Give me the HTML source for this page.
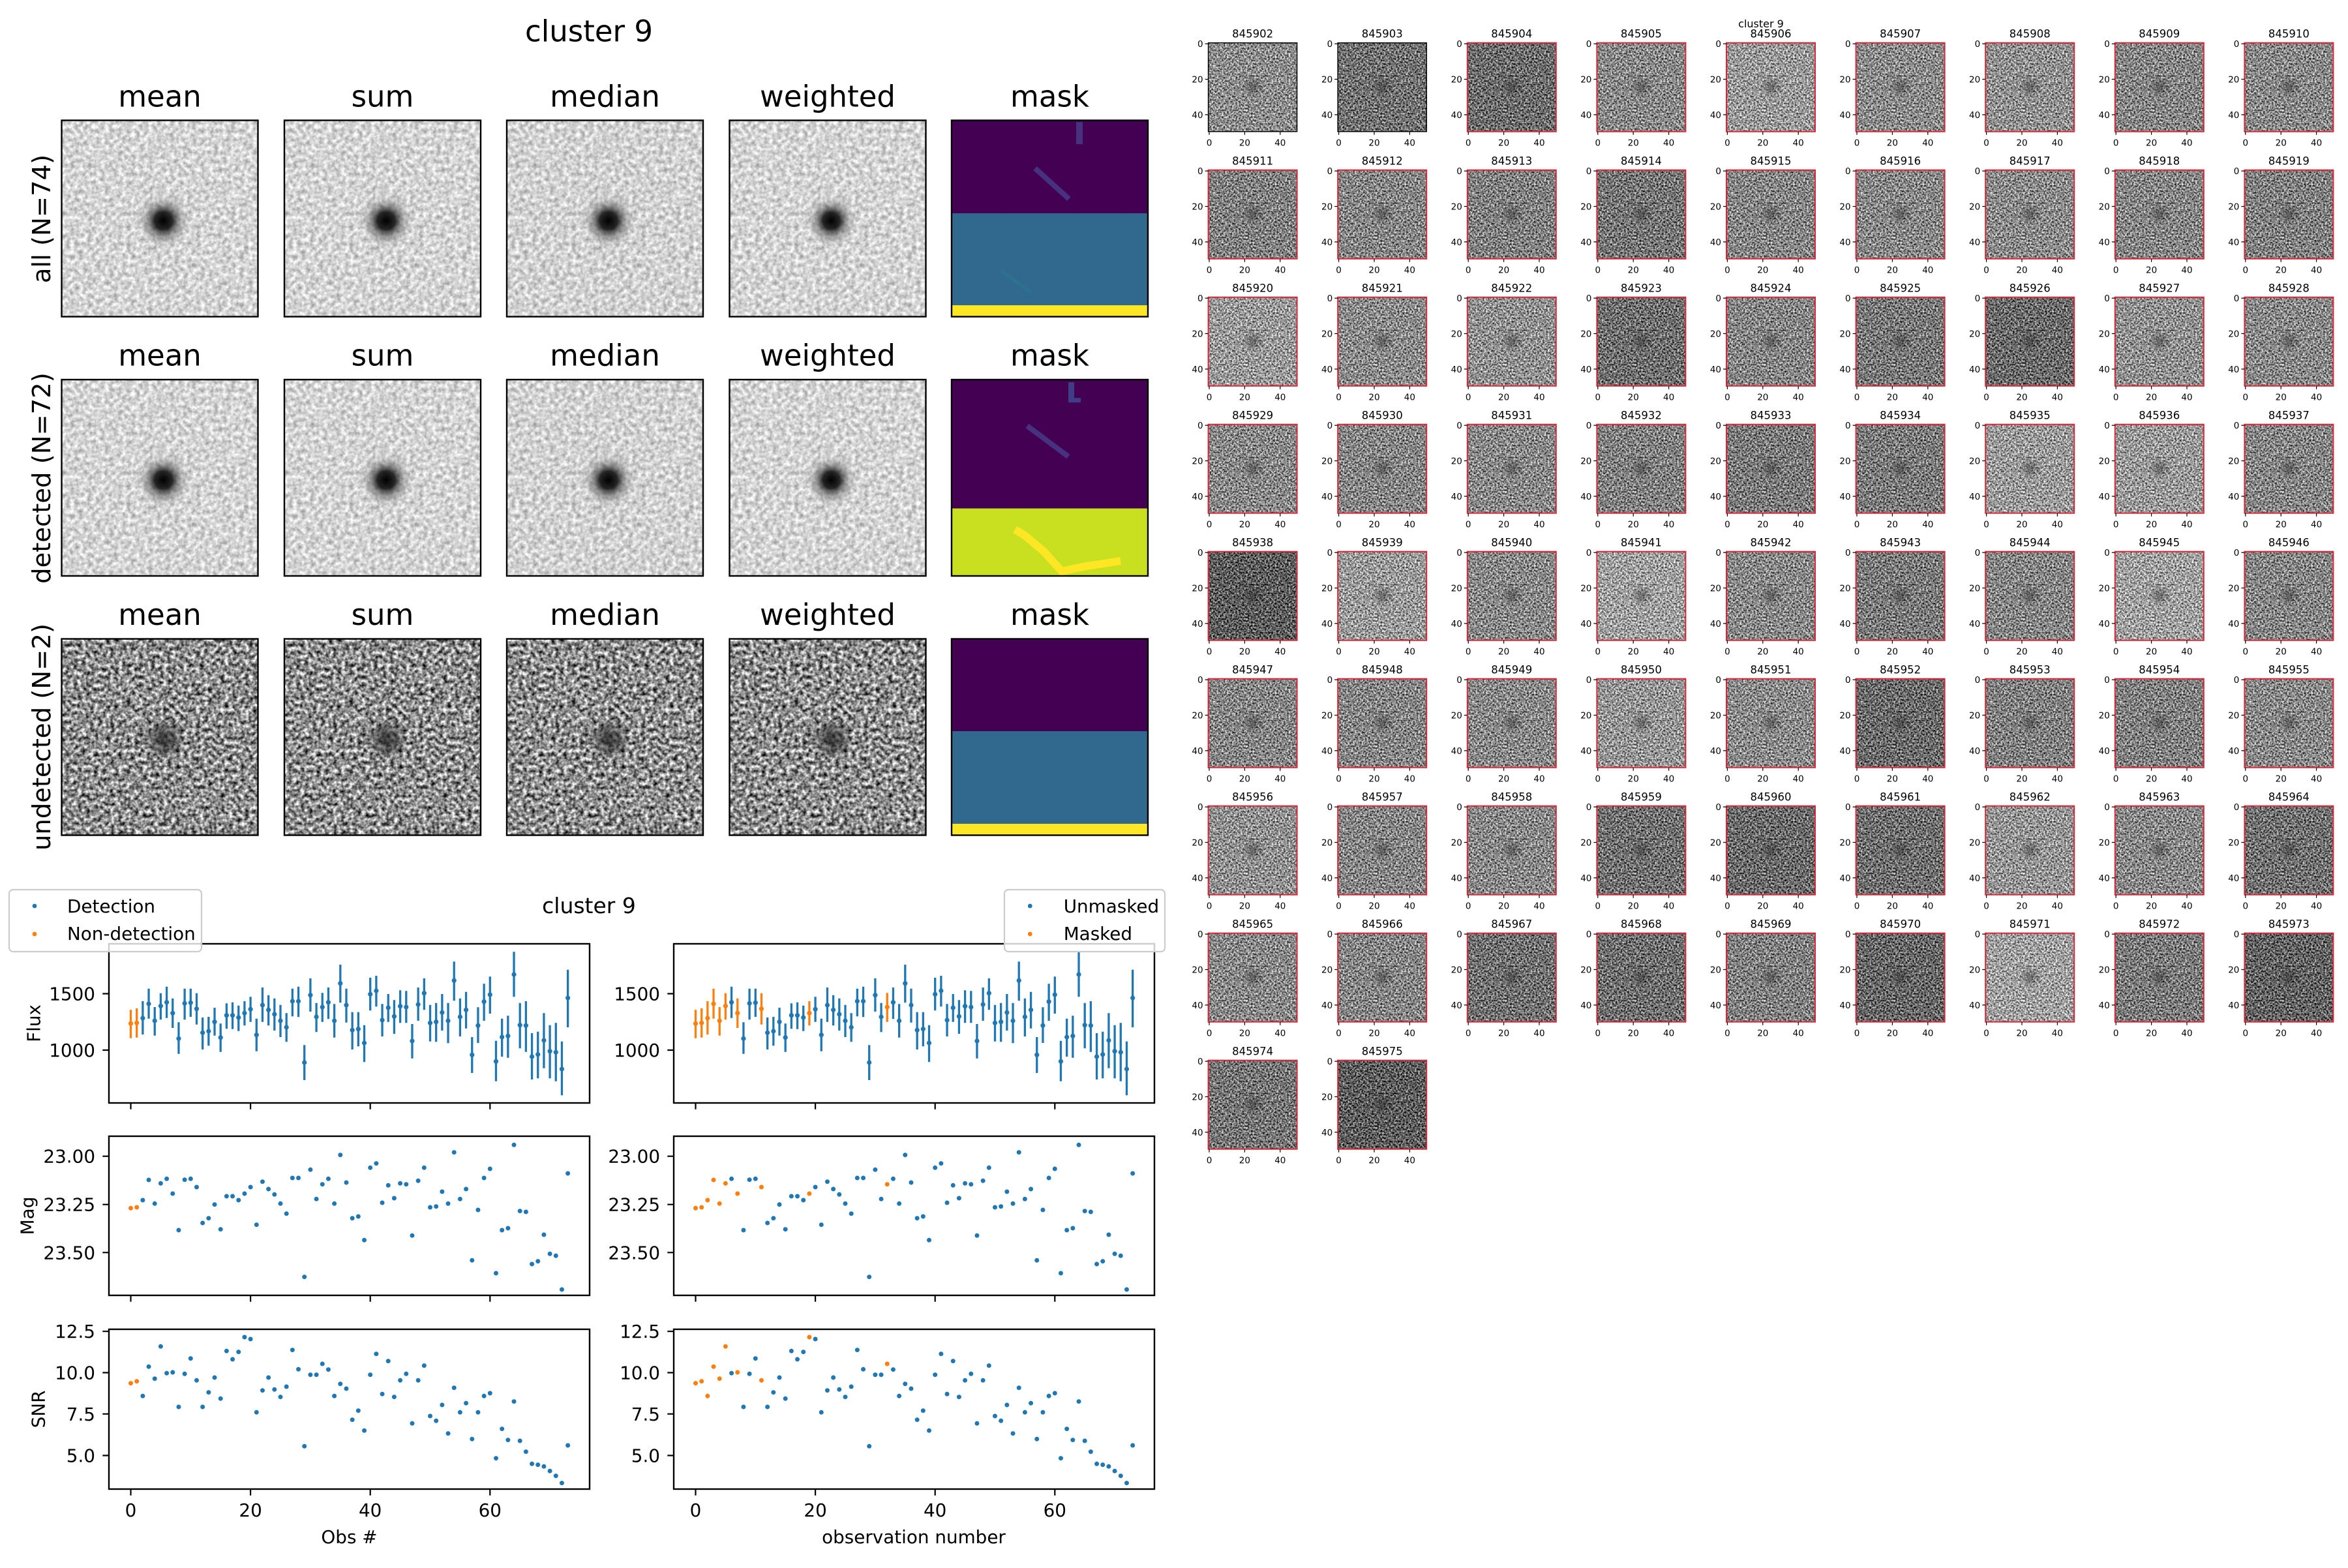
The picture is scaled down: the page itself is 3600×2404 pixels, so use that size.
<!DOCTYPE html>
<html><head><meta charset="utf-8">
<style>
html,body{margin:0;padding:0;background:#fff}
svg{display:block}
text{font-family:"DejaVu Sans","Liberation Sans",sans-serif;fill:#000}
.st{font-size:16.5px;text-anchor:middle}
.xt{font-size:13.5px;text-anchor:middle}
.yt{font-size:13.5px;text-anchor:end}
.tk{stroke:#000;stroke-width:1.2;fill:none}
.rb{fill:none;stroke:#d62839;stroke-width:2}
.bb{fill:none;stroke:#000;stroke-width:1.5}
.fr{fill:none;stroke:#000;stroke-width:2.4}
.ct{font-size:45px;text-anchor:middle}
.rl{font-size:38.5px;text-anchor:middle}
.lt{font-size:27.8px}
.lm{font-size:27.8px;text-anchor:middle}
.le{font-size:27.8px;text-anchor:end}
.tm{stroke:#000;stroke-width:2.2;fill:none}
</style></head><body>
<svg width="3600" height="2404" viewBox="0 0 3600 2404" xmlns="http://www.w3.org/2000/svg">
<defs>
<filter id="nL" x="0" y="0" width="1" height="1" color-interpolation-filters="sRGB">
<feTurbulence type="fractalNoise" baseFrequency="0.15" numOctaves="2" seed="2" result="t"/>
<feColorMatrix in="t" type="matrix" values="1 0 0 0 0 1 0 0 0 0 1 0 0 0 0 0 0 0 0 1" result="g"/>
<feComposite in="SourceGraphic" in2="g" operator="arithmetic" k1="0" k2="1" k3="0.6" k4="-0.3"/>
</filter>
<filter id="nM" x="0" y="0" width="1" height="1" color-interpolation-filters="sRGB">
<feTurbulence type="fractalNoise" baseFrequency="0.16" numOctaves="2" seed="5" result="t"/>
<feColorMatrix in="t" type="matrix" values="1 0 0 0 0 1 0 0 0 0 1 0 0 0 0 0 0 0 0 1" result="g"/>
<feComposite in="SourceGraphic" in2="g" operator="arithmetic" k1="0" k2="1" k3="1.6" k4="-0.8"/>
</filter>
<filter id="nS" x="0" y="0" width="1" height="1" color-interpolation-filters="sRGB">
<feTurbulence type="fractalNoise" baseFrequency="0.38" numOctaves="2" seed="7" result="t"/>
<feColorMatrix in="t" type="matrix" values="1 0 0 0 0 1 0 0 0 0 1 0 0 0 0 0 0 0 0 1" result="g"/>
<feComposite in="SourceGraphic" in2="g" operator="arithmetic" k1="0" k2="1" k3="1.5" k4="-0.75"/>
</filter>
<radialGradient id="bk"><stop offset="0" stop-color="#000" stop-opacity="1"/><stop offset="0.3" stop-color="#111" stop-opacity="0.9"/><stop offset="0.5" stop-color="#444" stop-opacity="0.55"/><stop offset="0.75" stop-color="#888" stop-opacity="0.2"/><stop offset="1" stop-color="#999" stop-opacity="0"/></radialGradient>
<radialGradient id="bk2"><stop offset="0" stop-color="#111" stop-opacity="0.75"/><stop offset="0.5" stop-color="#222" stop-opacity="0.45"/><stop offset="1" stop-color="#333" stop-opacity="0"/></radialGradient>
<radialGradient id="sb"><stop offset="0" stop-color="#222" stop-opacity="0.45"/><stop offset="1" stop-color="#333" stop-opacity="0"/></radialGradient>

<!-- flux groups -->
<g id="fB" fill="currentColor"><path d="M0 108.3V151.7M9.18 106V150.7" stroke="currentColor" stroke-width="3.3" fill="none"/><circle cx="0" cy="129.3" r="3.6"/><circle cx="9.18" cy="128.3" r="3.6"/></g>
<g id="fA" fill="currentColor"><path d="M18.36 95V146M27.54 75.7V121.7M36.72 104V147.7M45.9 82.7V123.3M64.26 90.7V136M100.98 82.7V130.7M174.42 95V132.3M293.76 82.3V126.7" stroke="currentColor" stroke-width="3.3" fill="none"/>
<circle cx="18.36" cy="121" r="3.6"/><circle cx="27.54" cy="99" r="3.6"/><circle cx="36.72" cy="125" r="3.6"/><circle cx="45.9" cy="102.3" r="3.6"/><circle cx="64.26" cy="113.3" r="3.6"/><circle cx="100.98" cy="106.7" r="3.6"/><circle cx="174.42" cy="113.3" r="3.6"/><circle cx="293.76" cy="104" r="3.6"/></g>
<g id="fC" fill="currentColor"><path d="M55.08 72.7V120.7M73.44 127.3V175.7M82.62 75.7V123.3M91.8 75.7V119M110.16 120V169M119.34 119V163.3M128.52 105V147.7M137.7 129.3V172.7M146.88 98.3V137.3M156.06 96.7V137.7M165.24 101.7V140.7M183.6 88.3V126.7M192.78 121.7V171.7M201.96 74V126.7M211.14 85.7V132.3M220.32 90.7V140M229.5 100.7V150M238.68 113.3V157.3M247.86 75.7V118.3M257.04 72.7V119.3M266.22 162.3V216M275.4 60V111M284.58 97.7V142.3M302.94 74V122.3M312.12 99.3V150.7M321.3 39V97.3M330.48 75.7V127.7M339.66 111.7V169M348.84 111.7V164.3M358.02 131.7V188.3M367.2 59V109.3M376.38 56V103.3M385.56 99.3V149M394.74 84V126.7M403.92 93.3V145M413.1 78.3V128.3M422.28 79.3V128.3M431.46 130V182.7M440.64 74V125M449.82 60V108.3M459 100.7V156.7M468.18 97.7V157.3M477.36 84V140M486.54 97.7V159.3M495.72 34.3V94.3M504.9 90.7V149M514.08 80.7V136.7M523.26 150V205M532.44 104.3V159M541.62 68.3V125M550.8 57.3V114M559.98 155.7V217.7M569.16 121.7V180M578.34 117.3V181.7M587.52 19.3V88.3M596.7 97.7V167.3M605.88 95V172.7M615.06 144V215M624.24 141.7V213.3M633.42 113.3V197.7M642.6 131.7V213.3M651.78 128.3V217.7M660.96 156.7V239.3M670.14 46.7V135" stroke="currentColor" stroke-width="3.3" fill="none"/>
<circle cx="55.08" cy="96.7" r="3.6"/><circle cx="73.44" cy="152.3" r="3.6"/><circle cx="82.62" cy="98.3" r="3.6"/><circle cx="91.8" cy="97.3" r="3.6"/><circle cx="110.16" cy="143.3" r="3.6"/><circle cx="119.34" cy="141" r="3.6"/><circle cx="128.52" cy="126.7" r="3.6"/><circle cx="137.7" cy="150.7" r="3.6"/><circle cx="146.88" cy="116.7" r="3.6"/><circle cx="156.06" cy="116.7" r="3.6"/><circle cx="165.24" cy="120" r="3.6"/><circle cx="183.6" cy="107.3" r="3.6"/><circle cx="192.78" cy="146.7" r="3.6"/><circle cx="201.96" cy="101" r="3.6"/><circle cx="211.14" cy="108.3" r="3.6"/><circle cx="220.32" cy="115" r="3.6"/><circle cx="229.5" cy="125" r="3.6"/><circle cx="238.68" cy="135" r="3.6"/><circle cx="247.86" cy="95" r="3.6"/><circle cx="257.04" cy="95" r="3.6"/><circle cx="266.22" cy="189" r="3.6"/><circle cx="275.4" cy="85.7" r="3.6"/><circle cx="284.58" cy="119" r="3.6"/><circle cx="302.94" cy="96.7" r="3.6"/><circle cx="312.12" cy="125" r="3.6"/><circle cx="321.3" cy="67.7" r="3.6"/><circle cx="330.48" cy="101" r="3.6"/><circle cx="339.66" cy="139.3" r="3.6"/><circle cx="348.84" cy="137.7" r="3.6"/><circle cx="358.02" cy="159" r="3.6"/><circle cx="367.2" cy="84.3" r="3.6"/><circle cx="376.38" cy="79" r="3.6"/><circle cx="385.56" cy="124" r="3.6"/><circle cx="394.74" cy="105" r="3.6"/><circle cx="403.92" cy="118.3" r="3.6"/><circle cx="413.1" cy="102.7" r="3.6"/><circle cx="422.28" cy="104" r="3.6"/><circle cx="431.46" cy="156" r="3.6"/><circle cx="440.64" cy="100" r="3.6"/><circle cx="449.82" cy="82.7" r="3.6"/><circle cx="459" cy="128.3" r="3.6"/><circle cx="468.18" cy="126.7" r="3.6"/><circle cx="477.36" cy="112.3" r="3.6"/><circle cx="486.54" cy="125" r="3.6"/><circle cx="495.72" cy="63.3" r="3.6"/><circle cx="504.9" cy="119" r="3.6"/><circle cx="514.08" cy="108.3" r="3.6"/><circle cx="523.26" cy="177.3" r="3.6"/><circle cx="532.44" cy="132.3" r="3.6"/><circle cx="541.62" cy="95.7" r="3.6"/><circle cx="550.8" cy="85" r="3.6"/><circle cx="559.98" cy="187.3" r="3.6"/><circle cx="569.16" cy="150" r="3.6"/><circle cx="578.34" cy="148.3" r="3.6"/><circle cx="587.52" cy="54" r="3.6"/><circle cx="596.7" cy="131.7" r="3.6"/><circle cx="605.88" cy="132.3" r="3.6"/><circle cx="615.06" cy="180" r="3.6"/><circle cx="624.24" cy="176.7" r="3.6"/><circle cx="633.42" cy="155" r="3.6"/><circle cx="642.6" cy="171.7" r="3.6"/><circle cx="651.78" cy="173.3" r="3.6"/><circle cx="660.96" cy="199" r="3.6"/><circle cx="670.14" cy="90" r="3.6"/></g>

<!-- mag groups -->
<g id="mB" fill="currentColor"><circle cx="0" cy="117.3" r="3.5"/><circle cx="9.18" cy="116" r="3.5"/></g>
<g id="mA" fill="currentColor"><circle cx="18.36" cy="105" r="3.5"/><circle cx="27.54" cy="74" r="3.5"/><circle cx="36.72" cy="110.3" r="3.5"/><circle cx="45.9" cy="79.3" r="3.5"/><circle cx="64.26" cy="95" r="3.5"/><circle cx="100.98" cy="85" r="3.5"/><circle cx="174.42" cy="95" r="3.5"/><circle cx="293.76" cy="80.7" r="3.5"/></g>
<g id="mC" fill="currentColor"><circle cx="55.08" cy="72.3" r="3.5"/><circle cx="73.44" cy="151" r="3.5"/><circle cx="82.62" cy="73.7" r="3.5"/><circle cx="91.8" cy="72.3" r="3.5"/><circle cx="110.16" cy="140" r="3.5"/><circle cx="119.34" cy="132.7" r="3.5"/><circle cx="128.52" cy="111.7" r="3.5"/><circle cx="137.7" cy="149.7" r="3.5"/><circle cx="146.88" cy="99" r="3.5"/><circle cx="156.06" cy="99" r="3.5"/><circle cx="165.24" cy="105" r="3.5"/><circle cx="183.6" cy="85" r="3.5"/><circle cx="192.78" cy="142.7" r="3.5"/><circle cx="201.96" cy="76.7" r="3.5"/><circle cx="211.14" cy="88" r="3.5"/><circle cx="220.32" cy="96.3" r="3.5"/><circle cx="229.5" cy="110.3" r="3.5"/><circle cx="238.68" cy="125.7" r="3.5"/><circle cx="247.86" cy="71" r="3.5"/><circle cx="257.04" cy="71" r="3.5"/><circle cx="266.22" cy="222.7" r="3.5"/><circle cx="275.4" cy="58.3" r="3.5"/><circle cx="284.58" cy="103.3" r="3.5"/><circle cx="302.94" cy="72.3" r="3.5"/><circle cx="312.12" cy="110.3" r="3.5"/><circle cx="321.3" cy="35.7" r="3.5"/><circle cx="330.48" cy="78" r="3.5"/><circle cx="339.66" cy="132.7" r="3.5"/><circle cx="348.84" cy="130" r="3.5"/><circle cx="358.02" cy="166.3" r="3.5"/><circle cx="367.2" cy="55.3" r="3.5"/><circle cx="376.38" cy="48.7" r="3.5"/><circle cx="385.56" cy="109" r="3.5"/><circle cx="394.74" cy="82.3" r="3.5"/><circle cx="403.92" cy="102" r="3.5"/><circle cx="413.1" cy="79.3" r="3.5"/><circle cx="422.28" cy="80.7" r="3.5"/><circle cx="431.46" cy="159.3" r="3.5"/><circle cx="440.64" cy="75.3" r="3.5"/><circle cx="449.82" cy="55.3" r="3.5"/><circle cx="459" cy="116" r="3.5"/><circle cx="468.18" cy="114.7" r="3.5"/><circle cx="477.36" cy="92" r="3.5"/><circle cx="486.54" cy="110.3" r="3.5"/><circle cx="495.72" cy="31.7" r="3.5"/><circle cx="504.9" cy="103.3" r="3.5"/><circle cx="514.08" cy="88" r="3.5"/><circle cx="523.26" cy="197.3" r="3.5"/><circle cx="532.44" cy="120" r="3.5"/><circle cx="541.62" cy="71" r="3.5"/><circle cx="550.8" cy="57" r="3.5"/><circle cx="559.98" cy="217" r="3.5"/><circle cx="569.16" cy="151" r="3.5"/><circle cx="578.34" cy="148" r="3.5"/><circle cx="587.52" cy="20.3" r="3.5"/><circle cx="596.7" cy="121.7" r="3.5"/><circle cx="605.88" cy="123" r="3.5"/><circle cx="615.06" cy="203" r="3.5"/><circle cx="624.24" cy="198.7" r="3.5"/><circle cx="633.42" cy="158" r="3.5"/><circle cx="642.6" cy="187.3" r="3.5"/><circle cx="651.78" cy="190.3" r="3.5"/><circle cx="660.96" cy="242" r="3.5"/><circle cx="670.14" cy="64" r="3.5"/></g>

<!-- snr groups -->
<g id="sB" fill="currentColor"><circle cx="0" cy="85.7" r="3.5"/><circle cx="9.18" cy="82.7" r="3.5"/></g>
<g id="sA" fill="currentColor"><circle cx="18.36" cy="105.3" r="3.5"/><circle cx="27.54" cy="60.3" r="3.5"/><circle cx="36.72" cy="78.7" r="3.5"/><circle cx="45.9" cy="29.3" r="3.5"/><circle cx="64.26" cy="69" r="3.5"/><circle cx="100.98" cy="81.3" r="3.5"/><circle cx="174.42" cy="15" r="3.5"/><circle cx="293.76" cy="56" r="3.5"/></g>
<g id="sC" fill="currentColor"><circle cx="55.08" cy="70.3" r="3.5"/><circle cx="73.44" cy="122" r="3.5"/><circle cx="82.62" cy="71.3" r="3.5"/><circle cx="91.8" cy="47.7" r="3.5"/><circle cx="110.16" cy="122" r="3.5"/><circle cx="119.34" cy="99.7" r="3.5"/><circle cx="128.52" cy="77" r="3.5"/><circle cx="137.7" cy="109.3" r="3.5"/><circle cx="146.88" cy="36.3" r="3.5"/><circle cx="156.06" cy="49" r="3.5"/><circle cx="165.24" cy="37.7" r="3.5"/><circle cx="183.6" cy="18" r="3.5"/><circle cx="192.78" cy="130.3" r="3.5"/><circle cx="201.96" cy="96.7" r="3.5"/><circle cx="211.14" cy="77" r="3.5"/><circle cx="220.32" cy="95.3" r="3.5"/><circle cx="229.5" cy="106.7" r="3.5"/><circle cx="238.68" cy="91" r="3.5"/><circle cx="247.86" cy="34.7" r="3.5"/><circle cx="257.04" cy="64.3" r="3.5"/><circle cx="266.22" cy="182.3" r="3.5"/><circle cx="275.4" cy="72.7" r="3.5"/><circle cx="284.58" cy="72.7" r="3.5"/><circle cx="302.94" cy="64.7" r="3.5"/><circle cx="312.12" cy="105.3" r="3.5"/><circle cx="321.3" cy="86.7" r="3.5"/><circle cx="330.48" cy="94" r="3.5"/><circle cx="339.66" cy="141.7" r="3.5"/><circle cx="348.84" cy="127.7" r="3.5"/><circle cx="358.02" cy="158.3" r="3.5"/><circle cx="367.2" cy="72.7" r="3.5"/><circle cx="376.38" cy="40.7" r="3.5"/><circle cx="385.56" cy="102.3" r="3.5"/><circle cx="394.74" cy="51.7" r="3.5"/><circle cx="403.92" cy="106.7" r="3.5"/><circle cx="413.1" cy="81.3" r="3.5"/><circle cx="422.28" cy="71.3" r="3.5"/><circle cx="431.46" cy="147.3" r="3.5"/><circle cx="440.64" cy="81.3" r="3.5"/><circle cx="449.82" cy="58.7" r="3.5"/><circle cx="459" cy="136" r="3.5"/><circle cx="468.18" cy="143.3" r="3.5"/><circle cx="477.36" cy="119" r="3.5"/><circle cx="486.54" cy="162.7" r="3.5"/><circle cx="495.72" cy="92.7" r="3.5"/><circle cx="504.9" cy="130.3" r="3.5"/><circle cx="514.08" cy="116.3" r="3.5"/><circle cx="523.26" cy="171.3" r="3.5"/><circle cx="532.44" cy="130.3" r="3.5"/><circle cx="541.62" cy="105.3" r="3.5"/><circle cx="550.8" cy="101" r="3.5"/><circle cx="559.98" cy="200.7" r="3.5"/><circle cx="569.16" cy="155.7" r="3.5"/><circle cx="578.34" cy="172.7" r="3.5"/><circle cx="587.52" cy="113.7" r="3.5"/><circle cx="596.7" cy="174" r="3.5"/><circle cx="605.88" cy="190.7" r="3.5"/><circle cx="615.06" cy="209.3" r="3.5"/><circle cx="624.24" cy="210.7" r="3.5"/><circle cx="633.42" cy="213.3" r="3.5"/><circle cx="642.6" cy="220.3" r="3.5"/><circle cx="651.78" cy="227.7" r="3.5"/><circle cx="660.96" cy="238.7" r="3.5"/><circle cx="670.14" cy="181" r="3.5"/></g>
</defs>

<rect width="3600" height="2404" fill="#fff"/>

<!-- ============ TOP-LEFT STACK FIGURE ============ -->
<text class="ct" x="903" y="63.5">cluster 9</text>

<!-- column titles -->
<g class="ct">
<text class="ct" x="245" y="163.3">mean</text><text class="ct" x="586.5" y="163.3">sum</text><text class="ct" x="927.5" y="163.3">median</text><text class="ct" x="1269" y="163.3">weighted</text><text class="ct" x="1609.5" y="163.3">mask</text>
<text class="ct" x="245" y="560.7">mean</text><text class="ct" x="586.5" y="560.7">sum</text><text class="ct" x="927.5" y="560.7">median</text><text class="ct" x="1269" y="560.7">weighted</text><text class="ct" x="1609.5" y="560.7">mask</text>
<text class="ct" x="245" y="958.1">mean</text><text class="ct" x="586.5" y="958.1">sum</text><text class="ct" x="927.5" y="958.1">median</text><text class="ct" x="1269" y="958.1">weighted</text><text class="ct" x="1609.5" y="958.1">mask</text>
</g>
<text class="rl" transform="translate(77,335.5) rotate(-90)">all (N=74)</text>
<text class="rl" transform="translate(77,733) rotate(-90)">detected (N=72)</text>
<text class="rl" transform="translate(77,1130) rotate(-90)">undetected (N=2)</text>

<!-- rows 1 & 2 light images -->
<g transform="translate(94.5,184.5)"><rect width="301" height="301" fill="#d4d4d4" filter="url(#nL)"/><circle cx="156" cy="154" r="45" fill="url(#bk)"/><rect width="301" height="301" class="fr"/></g>
<g transform="translate(436,184.5)"><rect width="301" height="301" fill="#d4d4d4" filter="url(#nL)"/><circle cx="156" cy="154" r="45" fill="url(#bk)"/><rect width="301" height="301" class="fr"/></g>
<g transform="translate(777,184.5)"><rect width="301" height="301" fill="#d2d2d2" filter="url(#nL)"/><circle cx="156" cy="154" r="45" fill="url(#bk)"/><rect width="301" height="301" class="fr"/></g>
<g transform="translate(1118.5,184.5)"><rect width="301" height="301" fill="#d4d4d4" filter="url(#nL)"/><circle cx="156" cy="154" r="43" fill="url(#bk)"/><rect width="301" height="301" class="fr"/></g>

<g transform="translate(94.5,582)"><rect width="301" height="301" fill="#d4d4d4" filter="url(#nL)"/><circle cx="156" cy="154" r="45" fill="url(#bk)"/><rect width="301" height="301" class="fr"/></g>
<g transform="translate(436,582)"><rect width="301" height="301" fill="#d4d4d4" filter="url(#nL)"/><circle cx="156" cy="154" r="45" fill="url(#bk)"/><rect width="301" height="301" class="fr"/></g>
<g transform="translate(777,582)"><rect width="301" height="301" fill="#d2d2d2" filter="url(#nL)"/><circle cx="156" cy="154" r="45" fill="url(#bk)"/><rect width="301" height="301" class="fr"/></g>
<g transform="translate(1118.5,582)"><rect width="301" height="301" fill="#d4d4d4" filter="url(#nL)"/><circle cx="156" cy="154" r="43" fill="url(#bk)"/><rect width="301" height="301" class="fr"/></g>

<!-- row 3 noisy images -->
<g transform="translate(94.5,979.5)"><rect width="301" height="301" fill="#8e8e8e" filter="url(#nM)"/><circle cx="157" cy="154" r="34" fill="url(#bk2)"/><rect width="301" height="301" class="fr"/></g>
<g transform="translate(436,979.5)"><rect width="301" height="301" fill="#8e8e8e" filter="url(#nM)"/><circle cx="157" cy="154" r="34" fill="url(#bk2)"/><rect width="301" height="301" class="fr"/></g>
<g transform="translate(777,979.5)"><rect width="301" height="301" fill="#8e8e8e" filter="url(#nM)"/><circle cx="157" cy="154" r="34" fill="url(#bk2)"/><rect width="301" height="301" class="fr"/></g>
<g transform="translate(1118.5,979.5)"><rect width="301" height="301" fill="#8e8e8e" filter="url(#nM)"/><circle cx="157" cy="154" r="34" fill="url(#bk2)"/><rect width="301" height="301" class="fr"/></g>

<!-- masks -->
<g>
<rect x="1459" y="184.5" width="301" height="301" fill="#440154"/>
<rect x="1459" y="327" width="301" height="141" fill="#31688e"/>
<rect x="1459" y="468" width="301" height="17.5" fill="#fde725"/>
<rect x="1650" y="187" width="10" height="34" fill="#46327e"/>
<polyline points="1587,258 1639,305" stroke="#46327e" stroke-width="8" fill="none"/>
<polyline points="1535,415 1581,448" stroke="#2c718e" stroke-width="6" fill="none"/>
<rect x="1459" y="184.5" width="301" height="301" class="fr"/>

<rect x="1459" y="582" width="301" height="301" fill="#440154"/>
<rect x="1459" y="779.5" width="301" height="103.5" fill="#c8e020"/>
<rect x="1638" y="586" width="9" height="30" fill="#3e3d85"/>
<rect x="1638" y="610" width="19" height="7" fill="#3e3d85"/>
<polyline points="1575,653 1638,700" stroke="#46327e" stroke-width="8" fill="none"/>
<polyline points="1556,812 1570,820 1600,845 1628,876 1660,869 1718,860" stroke="#fde725" stroke-width="12" fill="none"/>
<rect x="1459" y="582" width="301" height="301" class="fr"/>

<rect x="1459" y="979.5" width="301" height="301" fill="#440154"/>
<rect x="1459" y="1121" width="301" height="142" fill="#31688e"/>
<rect x="1459" y="1263" width="301" height="17.5" fill="#fde725"/>
<rect x="1459" y="979.5" width="301" height="301" class="fr"/>
</g>

<!-- ============ LIGHTCURVE FIGURE ============ -->
<text x="903" y="1400" style="font-size:33px;text-anchor:middle">cluster 9</text>

<!-- panel frames -->
<rect x="167" y="1447" width="737" height="244" class="fr"/>
<rect x="1033" y="1447" width="737" height="244" class="fr"/>
<rect x="167" y="1742" width="737" height="244" class="fr"/>
<rect x="1033" y="1742" width="737" height="244" class="fr"/>
<rect x="167" y="2038" width="737" height="245" class="fr"/>
<rect x="1033" y="2038" width="737" height="245" class="fr"/>

<!-- tick marks -->
<path class="tm" d="M157.3 1523.5h9.7M157.3 1610h9.7M1023.3 1523.5h9.7M1023.3 1610h9.7
M157.3 1772.7h9.7M157.3 1846.7h9.7M157.3 1920.3h9.7M1023.3 1772.7h9.7M1023.3 1846.7h9.7M1023.3 1920.3h9.7
M157.3 2041.2h9.7M157.3 2104.5h9.7M157.3 2167.8h9.7M157.3 2231.5h9.7M1023.3 2041.2h9.7M1023.3 2104.5h9.7M1023.3 2167.8h9.7M1023.3 2231.5h9.7
M200.5 1691v9.7M384.1 1691v9.7M567.7 1691v9.7M751.3 1691v9.7M1066.5 1691v9.7M1250.1 1691v9.7M1433.7 1691v9.7M1617.3 1691v9.7
M200.5 1986v9.7M384.1 1986v9.7M567.7 1986v9.7M751.3 1986v9.7M1066.5 1986v9.7M1250.1 1986v9.7M1433.7 1986v9.7M1617.3 1986v9.7
M200.5 2283v9.7M384.1 2283v9.7M567.7 2283v9.7M751.3 2283v9.7M1066.5 2283v9.7M1250.1 2283v9.7M1433.7 2283v9.7M1617.3 2283v9.7"/>

<!-- y tick labels -->
<text class="le" x="146" y="1533.5">1500</text><text class="le" x="146" y="1620">1000</text>
<text class="le" x="1012" y="1533.5">1500</text><text class="le" x="1012" y="1620">1000</text>
<text class="le" x="146" y="1782.7">23.00</text><text class="le" x="146" y="1856.7">23.25</text><text class="le" x="146" y="1930.3">23.50</text>
<text class="le" x="1012" y="1782.7">23.00</text><text class="le" x="1012" y="1856.7">23.25</text><text class="le" x="1012" y="1930.3">23.50</text>
<text class="le" x="146" y="2051.2">12.5</text><text class="le" x="146" y="2114.5">10.0</text><text class="le" x="146" y="2177.8">7.5</text><text class="le" x="146" y="2241.5">5.0</text>
<text class="le" x="1012" y="2051.2">12.5</text><text class="le" x="1012" y="2114.5">10.0</text><text class="le" x="1012" y="2177.8">7.5</text><text class="le" x="1012" y="2241.5">5.0</text>

<!-- x tick labels -->
<text class="lm" x="200.5" y="2325">0</text><text class="lm" x="384.1" y="2325">20</text><text class="lm" x="567.7" y="2325">40</text><text class="lm" x="751.3" y="2325">60</text>
<text class="lm" x="1066.5" y="2325">0</text><text class="lm" x="1250.1" y="2325">20</text><text class="lm" x="1433.7" y="2325">40</text><text class="lm" x="1617.3" y="2325">60</text>

<!-- axis labels -->
<text class="lm" x="535.5" y="2366">Obs #</text>
<text class="lm" x="1401" y="2366">observation number</text>
<text class="lm" transform="translate(61.5,1569) rotate(-90)">Flux</text>
<text class="lm" transform="translate(51.5,1864) rotate(-90)">Mag</text>
<text class="lm" transform="translate(68.5,2160.5) rotate(-90)">SNR</text>

<!-- data: left -->
<use href="#fC" transform="translate(200.5,1440)" color="#1f77b4"/>
<use href="#fA" transform="translate(200.5,1440)" color="#1f77b4"/>
<use href="#fB" transform="translate(200.5,1440)" color="#ff7f0e"/>
<use href="#mC" transform="translate(200.5,1735)" color="#1f77b4"/>
<use href="#mA" transform="translate(200.5,1735)" color="#1f77b4"/>
<use href="#mB" transform="translate(200.5,1735)" color="#ff7f0e"/>
<use href="#sC" transform="translate(200.5,2035)" color="#1f77b4"/>
<use href="#sA" transform="translate(200.5,2035)" color="#1f77b4"/>
<use href="#sB" transform="translate(200.5,2035)" color="#ff7f0e"/>
<!-- data: right -->
<use href="#fC" transform="translate(1066.5,1440)" color="#1f77b4"/>
<use href="#fA" transform="translate(1066.5,1440)" color="#ff7f0e"/>
<use href="#fB" transform="translate(1066.5,1440)" color="#ff7f0e"/>
<use href="#mC" transform="translate(1066.5,1735)" color="#1f77b4"/>
<use href="#mA" transform="translate(1066.5,1735)" color="#ff7f0e"/>
<use href="#mB" transform="translate(1066.5,1735)" color="#ff7f0e"/>
<use href="#sC" transform="translate(1066.5,2035)" color="#1f77b4"/>
<use href="#sA" transform="translate(1066.5,2035)" color="#ff7f0e"/>
<use href="#sB" transform="translate(1066.5,2035)" color="#ff7f0e"/>

<!-- legends -->
<rect x="14" y="1364" width="295" height="95" rx="6" fill="#fff" fill-opacity="0.8" stroke="#cccccc" stroke-width="2.2"/>
<circle cx="53" cy="1389" r="3.4" fill="#1f77b4"/><text class="lt" x="103" y="1399">Detection</text>
<circle cx="53" cy="1432" r="3.4" fill="#ff7f0e"/><text class="lt" x="103" y="1441">Non-detection</text>
<rect x="1540" y="1364" width="246" height="95" rx="6" fill="#fff" fill-opacity="0.8" stroke="#cccccc" stroke-width="2.2"/>
<circle cx="1579.3" cy="1389" r="3.4" fill="#1f77b4"/><text class="lt" x="1630.7" y="1399">Unmasked</text>
<circle cx="1579.3" cy="1432" r="3.4" fill="#ff7f0e"/><text class="lt" x="1630.7" y="1441">Masked</text>

<!-- ============ RIGHT GRID ============ -->
<text x="2700" y="42" style="font-size:16px;text-anchor:middle">cluster 9</text>

<g transform="translate(1852.6,65.7)"><rect width="136" height="136" fill="#8c8c8c" filter="url(#nS)"/><circle cx="69" cy="67" r="18" fill="url(#sb)"/><rect width="136" height="136" class="bb"/><text class="st" x="68" y="-8.4">845902</text><path class="tk" d="M1.4 136v5M55.8 136v5M110.2 136v5M0 1.4h-5M0 55.8h-5M0 110.2h-5"/><text class="xt" y="157.7"><tspan x="1.4">0</tspan><tspan x="55.8">20</tspan><tspan x="110.2">40</tspan></text><text class="yt"><tspan x="-8" y="6.3">0</tspan><tspan x="-8" y="60.7">20</tspan><tspan x="-8" y="115.1">40</tspan></text></g>
<g transform="translate(2051.2,65.7)"><rect width="136" height="136" fill="#717171" filter="url(#nS)"/><circle cx="69" cy="67" r="18" fill="url(#sb)"/><rect width="136" height="136" class="bb"/><text class="st" x="68" y="-8.4">845903</text><path class="tk" d="M1.4 136v5M55.8 136v5M110.2 136v5M0 1.4h-5M0 55.8h-5M0 110.2h-5"/><text class="xt" y="157.7"><tspan x="1.4">0</tspan><tspan x="55.8">20</tspan><tspan x="110.2">40</tspan></text><text class="yt"><tspan x="-8" y="6.3">0</tspan><tspan x="-8" y="60.7">20</tspan><tspan x="-8" y="115.1">40</tspan></text></g>
<g transform="translate(2249.8,65.7)"><rect width="136" height="136" fill="#6c6c6c" filter="url(#nS)"/><circle cx="69" cy="67" r="18" fill="url(#sb)"/><rect width="136" height="136" class="rb"/><text class="st" x="68" y="-8.4">845904</text><path class="tk" d="M1.4 136v5M55.8 136v5M110.2 136v5M0 1.4h-5M0 55.8h-5M0 110.2h-5"/><text class="xt" y="157.7"><tspan x="1.4">0</tspan><tspan x="55.8">20</tspan><tspan x="110.2">40</tspan></text><text class="yt"><tspan x="-8" y="6.3">0</tspan><tspan x="-8" y="60.7">20</tspan><tspan x="-8" y="115.1">40</tspan></text></g>
<g transform="translate(2448.4,65.7)"><rect width="136" height="136" fill="#888888" filter="url(#nS)"/><circle cx="69" cy="67" r="18" fill="url(#sb)"/><rect width="136" height="136" class="rb"/><text class="st" x="68" y="-8.4">845905</text><path class="tk" d="M1.4 136v5M55.8 136v5M110.2 136v5M0 1.4h-5M0 55.8h-5M0 110.2h-5"/><text class="xt" y="157.7"><tspan x="1.4">0</tspan><tspan x="55.8">20</tspan><tspan x="110.2">40</tspan></text><text class="yt"><tspan x="-8" y="6.3">0</tspan><tspan x="-8" y="60.7">20</tspan><tspan x="-8" y="115.1">40</tspan></text></g>
<g transform="translate(2647,65.7)"><rect width="136" height="136" fill="#999999" filter="url(#nS)"/><circle cx="69" cy="67" r="18" fill="url(#sb)"/><rect width="136" height="136" class="rb"/><text class="st" x="68" y="-8.4">845906</text><path class="tk" d="M1.4 136v5M55.8 136v5M110.2 136v5M0 1.4h-5M0 55.8h-5M0 110.2h-5"/><text class="xt" y="157.7"><tspan x="1.4">0</tspan><tspan x="55.8">20</tspan><tspan x="110.2">40</tspan></text><text class="yt"><tspan x="-8" y="6.3">0</tspan><tspan x="-8" y="60.7">20</tspan><tspan x="-8" y="115.1">40</tspan></text></g>
<g transform="translate(2845.6,65.7)"><rect width="136" height="136" fill="#8a8a8a" filter="url(#nS)"/><circle cx="69" cy="67" r="18" fill="url(#sb)"/><rect width="136" height="136" class="rb"/><text class="st" x="68" y="-8.4">845907</text><path class="tk" d="M1.4 136v5M55.8 136v5M110.2 136v5M0 1.4h-5M0 55.8h-5M0 110.2h-5"/><text class="xt" y="157.7"><tspan x="1.4">0</tspan><tspan x="55.8">20</tspan><tspan x="110.2">40</tspan></text><text class="yt"><tspan x="-8" y="6.3">0</tspan><tspan x="-8" y="60.7">20</tspan><tspan x="-8" y="115.1">40</tspan></text></g>
<g transform="translate(3044.2,65.7)"><rect width="136" height="136" fill="#909090" filter="url(#nS)"/><circle cx="69" cy="67" r="18" fill="url(#sb)"/><rect width="136" height="136" class="rb"/><text class="st" x="68" y="-8.4">845908</text><path class="tk" d="M1.4 136v5M55.8 136v5M110.2 136v5M0 1.4h-5M0 55.8h-5M0 110.2h-5"/><text class="xt" y="157.7"><tspan x="1.4">0</tspan><tspan x="55.8">20</tspan><tspan x="110.2">40</tspan></text><text class="yt"><tspan x="-8" y="6.3">0</tspan><tspan x="-8" y="60.7">20</tspan><tspan x="-8" y="115.1">40</tspan></text></g>
<g transform="translate(3242.8,65.7)"><rect width="136" height="136" fill="#858585" filter="url(#nS)"/><circle cx="69" cy="67" r="18" fill="url(#sb)"/><rect width="136" height="136" class="rb"/><text class="st" x="68" y="-8.4">845909</text><path class="tk" d="M1.4 136v5M55.8 136v5M110.2 136v5M0 1.4h-5M0 55.8h-5M0 110.2h-5"/><text class="xt" y="157.7"><tspan x="1.4">0</tspan><tspan x="55.8">20</tspan><tspan x="110.2">40</tspan></text><text class="yt"><tspan x="-8" y="6.3">0</tspan><tspan x="-8" y="60.7">20</tspan><tspan x="-8" y="115.1">40</tspan></text></g>
<g transform="translate(3441.4,65.7)"><rect width="136" height="136" fill="#888888" filter="url(#nS)"/><circle cx="69" cy="67" r="18" fill="url(#sb)"/><rect width="136" height="136" class="rb"/><text class="st" x="68" y="-8.4">845910</text><path class="tk" d="M1.4 136v5M55.8 136v5M110.2 136v5M0 1.4h-5M0 55.8h-5M0 110.2h-5"/><text class="xt" y="157.7"><tspan x="1.4">0</tspan><tspan x="55.8">20</tspan><tspan x="110.2">40</tspan></text><text class="yt"><tspan x="-8" y="6.3">0</tspan><tspan x="-8" y="60.7">20</tspan><tspan x="-8" y="115.1">40</tspan></text></g>

<g transform="translate(1852.6,260.7)"><rect width="136" height="136" fill="#808080" filter="url(#nS)"/><circle cx="69" cy="67" r="18" fill="url(#sb)"/><rect width="136" height="136" class="rb"/><text class="st" x="68" y="-8.4">845911</text><path class="tk" d="M1.4 136v5M55.8 136v5M110.2 136v5M0 1.4h-5M0 55.8h-5M0 110.2h-5"/><text class="xt" y="157.7"><tspan x="1.4">0</tspan><tspan x="55.8">20</tspan><tspan x="110.2">40</tspan></text><text class="yt"><tspan x="-8" y="6.3">0</tspan><tspan x="-8" y="60.7">20</tspan><tspan x="-8" y="115.1">40</tspan></text></g>
<g transform="translate(2051.2,260.7)"><rect width="136" height="136" fill="#858585" filter="url(#nS)"/><circle cx="69" cy="67" r="18" fill="url(#sb)"/><rect width="136" height="136" class="rb"/><text class="st" x="68" y="-8.4">845912</text><path class="tk" d="M1.4 136v5M55.8 136v5M110.2 136v5M0 1.4h-5M0 55.8h-5M0 110.2h-5"/><text class="xt" y="157.7"><tspan x="1.4">0</tspan><tspan x="55.8">20</tspan><tspan x="110.2">40</tspan></text><text class="yt"><tspan x="-8" y="6.3">0</tspan><tspan x="-8" y="60.7">20</tspan><tspan x="-8" y="115.1">40</tspan></text></g>
<g transform="translate(2249.8,260.7)"><rect width="136" height="136" fill="#808080" filter="url(#nS)"/><circle cx="69" cy="67" r="18" fill="url(#sb)"/><rect width="136" height="136" class="rb"/><text class="st" x="68" y="-8.4">845913</text><path class="tk" d="M1.4 136v5M55.8 136v5M110.2 136v5M0 1.4h-5M0 55.8h-5M0 110.2h-5"/><text class="xt" y="157.7"><tspan x="1.4">0</tspan><tspan x="55.8">20</tspan><tspan x="110.2">40</tspan></text><text class="yt"><tspan x="-8" y="6.3">0</tspan><tspan x="-8" y="60.7">20</tspan><tspan x="-8" y="115.1">40</tspan></text></g>
<g transform="translate(2448.4,260.7)"><rect width="136" height="136" fill="#757575" filter="url(#nS)"/><circle cx="69" cy="67" r="18" fill="url(#sb)"/><rect width="136" height="136" class="rb"/><text class="st" x="68" y="-8.4">845914</text><path class="tk" d="M1.4 136v5M55.8 136v5M110.2 136v5M0 1.4h-5M0 55.8h-5M0 110.2h-5"/><text class="xt" y="157.7"><tspan x="1.4">0</tspan><tspan x="55.8">20</tspan><tspan x="110.2">40</tspan></text><text class="yt"><tspan x="-8" y="6.3">0</tspan><tspan x="-8" y="60.7">20</tspan><tspan x="-8" y="115.1">40</tspan></text></g>
<g transform="translate(2647,260.7)"><rect width="136" height="136" fill="#858585" filter="url(#nS)"/><circle cx="69" cy="67" r="18" fill="url(#sb)"/><rect width="136" height="136" class="rb"/><text class="st" x="68" y="-8.4">845915</text><path class="tk" d="M1.4 136v5M55.8 136v5M110.2 136v5M0 1.4h-5M0 55.8h-5M0 110.2h-5"/><text class="xt" y="157.7"><tspan x="1.4">0</tspan><tspan x="55.8">20</tspan><tspan x="110.2">40</tspan></text><text class="yt"><tspan x="-8" y="6.3">0</tspan><tspan x="-8" y="60.7">20</tspan><tspan x="-8" y="115.1">40</tspan></text></g>
<g transform="translate(2845.6,260.7)"><rect width="136" height="136" fill="#878787" filter="url(#nS)"/><circle cx="69" cy="67" r="18" fill="url(#sb)"/><rect width="136" height="136" class="rb"/><text class="st" x="68" y="-8.4">845916</text><path class="tk" d="M1.4 136v5M55.8 136v5M110.2 136v5M0 1.4h-5M0 55.8h-5M0 110.2h-5"/><text class="xt" y="157.7"><tspan x="1.4">0</tspan><tspan x="55.8">20</tspan><tspan x="110.2">40</tspan></text><text class="yt"><tspan x="-8" y="6.3">0</tspan><tspan x="-8" y="60.7">20</tspan><tspan x="-8" y="115.1">40</tspan></text></g>
<g transform="translate(3044.2,260.7)"><rect width="136" height="136" fill="#8a8a8a" filter="url(#nS)"/><circle cx="69" cy="67" r="18" fill="url(#sb)"/><rect width="136" height="136" class="rb"/><text class="st" x="68" y="-8.4">845917</text><path class="tk" d="M1.4 136v5M55.8 136v5M110.2 136v5M0 1.4h-5M0 55.8h-5M0 110.2h-5"/><text class="xt" y="157.7"><tspan x="1.4">0</tspan><tspan x="55.8">20</tspan><tspan x="110.2">40</tspan></text><text class="yt"><tspan x="-8" y="6.3">0</tspan><tspan x="-8" y="60.7">20</tspan><tspan x="-8" y="115.1">40</tspan></text></g>
<g transform="translate(3242.8,260.7)"><rect width="136" height="136" fill="#858585" filter="url(#nS)"/><circle cx="69" cy="67" r="18" fill="url(#sb)"/><rect width="136" height="136" class="rb"/><text class="st" x="68" y="-8.4">845918</text><path class="tk" d="M1.4 136v5M55.8 136v5M110.2 136v5M0 1.4h-5M0 55.8h-5M0 110.2h-5"/><text class="xt" y="157.7"><tspan x="1.4">0</tspan><tspan x="55.8">20</tspan><tspan x="110.2">40</tspan></text><text class="yt"><tspan x="-8" y="6.3">0</tspan><tspan x="-8" y="60.7">20</tspan><tspan x="-8" y="115.1">40</tspan></text></g>
<g transform="translate(3441.4,260.7)"><rect width="136" height="136" fill="#808080" filter="url(#nS)"/><circle cx="69" cy="67" r="18" fill="url(#sb)"/><rect width="136" height="136" class="rb"/><text class="st" x="68" y="-8.4">845919</text><path class="tk" d="M1.4 136v5M55.8 136v5M110.2 136v5M0 1.4h-5M0 55.8h-5M0 110.2h-5"/><text class="xt" y="157.7"><tspan x="1.4">0</tspan><tspan x="55.8">20</tspan><tspan x="110.2">40</tspan></text><text class="yt"><tspan x="-8" y="6.3">0</tspan><tspan x="-8" y="60.7">20</tspan><tspan x="-8" y="115.1">40</tspan></text></g>

<g transform="translate(1852.6,455.7)"><rect width="136" height="136" fill="#999999" filter="url(#nS)"/><circle cx="69" cy="67" r="18" fill="url(#sb)"/><rect width="136" height="136" class="rb"/><text class="st" x="68" y="-8.4">845920</text><path class="tk" d="M1.4 136v5M55.8 136v5M110.2 136v5M0 1.4h-5M0 55.8h-5M0 110.2h-5"/><text class="xt" y="157.7"><tspan x="1.4">0</tspan><tspan x="55.8">20</tspan><tspan x="110.2">40</tspan></text><text class="yt"><tspan x="-8" y="6.3">0</tspan><tspan x="-8" y="60.7">20</tspan><tspan x="-8" y="115.1">40</tspan></text></g>
<g transform="translate(2051.2,455.7)"><rect width="136" height="136" fill="#8a8a8a" filter="url(#nS)"/><circle cx="69" cy="67" r="18" fill="url(#sb)"/><rect width="136" height="136" class="rb"/><text class="st" x="68" y="-8.4">845921</text><path class="tk" d="M1.4 136v5M55.8 136v5M110.2 136v5M0 1.4h-5M0 55.8h-5M0 110.2h-5"/><text class="xt" y="157.7"><tspan x="1.4">0</tspan><tspan x="55.8">20</tspan><tspan x="110.2">40</tspan></text><text class="yt"><tspan x="-8" y="6.3">0</tspan><tspan x="-8" y="60.7">20</tspan><tspan x="-8" y="115.1">40</tspan></text></g>
<g transform="translate(2249.8,455.7)"><rect width="136" height="136" fill="#909090" filter="url(#nS)"/><circle cx="69" cy="67" r="18" fill="url(#sb)"/><rect width="136" height="136" class="rb"/><text class="st" x="68" y="-8.4">845922</text><path class="tk" d="M1.4 136v5M55.8 136v5M110.2 136v5M0 1.4h-5M0 55.8h-5M0 110.2h-5"/><text class="xt" y="157.7"><tspan x="1.4">0</tspan><tspan x="55.8">20</tspan><tspan x="110.2">40</tspan></text><text class="yt"><tspan x="-8" y="6.3">0</tspan><tspan x="-8" y="60.7">20</tspan><tspan x="-8" y="115.1">40</tspan></text></g>
<g transform="translate(2448.4,455.7)"><rect width="136" height="136" fill="#6e6e6e" filter="url(#nS)"/><circle cx="69" cy="67" r="18" fill="url(#sb)"/><rect width="136" height="136" class="rb"/><text class="st" x="68" y="-8.4">845923</text><path class="tk" d="M1.4 136v5M55.8 136v5M110.2 136v5M0 1.4h-5M0 55.8h-5M0 110.2h-5"/><text class="xt" y="157.7"><tspan x="1.4">0</tspan><tspan x="55.8">20</tspan><tspan x="110.2">40</tspan></text><text class="yt"><tspan x="-8" y="6.3">0</tspan><tspan x="-8" y="60.7">20</tspan><tspan x="-8" y="115.1">40</tspan></text></g>
<g transform="translate(2647,455.7)"><rect width="136" height="136" fill="#858585" filter="url(#nS)"/><circle cx="69" cy="67" r="18" fill="url(#sb)"/><rect width="136" height="136" class="rb"/><text class="st" x="68" y="-8.4">845924</text><path class="tk" d="M1.4 136v5M55.8 136v5M110.2 136v5M0 1.4h-5M0 55.8h-5M0 110.2h-5"/><text class="xt" y="157.7"><tspan x="1.4">0</tspan><tspan x="55.8">20</tspan><tspan x="110.2">40</tspan></text><text class="yt"><tspan x="-8" y="6.3">0</tspan><tspan x="-8" y="60.7">20</tspan><tspan x="-8" y="115.1">40</tspan></text></g>
<g transform="translate(2845.6,455.7)"><rect width="136" height="136" fill="#787878" filter="url(#nS)"/><circle cx="69" cy="67" r="18" fill="url(#sb)"/><rect width="136" height="136" class="rb"/><text class="st" x="68" y="-8.4">845925</text><path class="tk" d="M1.4 136v5M55.8 136v5M110.2 136v5M0 1.4h-5M0 55.8h-5M0 110.2h-5"/><text class="xt" y="157.7"><tspan x="1.4">0</tspan><tspan x="55.8">20</tspan><tspan x="110.2">40</tspan></text><text class="yt"><tspan x="-8" y="6.3">0</tspan><tspan x="-8" y="60.7">20</tspan><tspan x="-8" y="115.1">40</tspan></text></g>
<g transform="translate(3044.2,455.7)"><rect width="136" height="136" fill="#6a6a6a" filter="url(#nS)"/><circle cx="69" cy="67" r="18" fill="url(#sb)"/><rect width="136" height="136" class="rb"/><text class="st" x="68" y="-8.4">845926</text><path class="tk" d="M1.4 136v5M55.8 136v5M110.2 136v5M0 1.4h-5M0 55.8h-5M0 110.2h-5"/><text class="xt" y="157.7"><tspan x="1.4">0</tspan><tspan x="55.8">20</tspan><tspan x="110.2">40</tspan></text><text class="yt"><tspan x="-8" y="6.3">0</tspan><tspan x="-8" y="60.7">20</tspan><tspan x="-8" y="115.1">40</tspan></text></g>
<g transform="translate(3242.8,455.7)"><rect width="136" height="136" fill="#909090" filter="url(#nS)"/><circle cx="69" cy="67" r="18" fill="url(#sb)"/><rect width="136" height="136" class="rb"/><text class="st" x="68" y="-8.4">845927</text><path class="tk" d="M1.4 136v5M55.8 136v5M110.2 136v5M0 1.4h-5M0 55.8h-5M0 110.2h-5"/><text class="xt" y="157.7"><tspan x="1.4">0</tspan><tspan x="55.8">20</tspan><tspan x="110.2">40</tspan></text><text class="yt"><tspan x="-8" y="6.3">0</tspan><tspan x="-8" y="60.7">20</tspan><tspan x="-8" y="115.1">40</tspan></text></g>
<g transform="translate(3441.4,455.7)"><rect width="136" height="136" fill="#888888" filter="url(#nS)"/><circle cx="69" cy="67" r="18" fill="url(#sb)"/><rect width="136" height="136" class="rb"/><text class="st" x="68" y="-8.4">845928</text><path class="tk" d="M1.4 136v5M55.8 136v5M110.2 136v5M0 1.4h-5M0 55.8h-5M0 110.2h-5"/><text class="xt" y="157.7"><tspan x="1.4">0</tspan><tspan x="55.8">20</tspan><tspan x="110.2">40</tspan></text><text class="yt"><tspan x="-8" y="6.3">0</tspan><tspan x="-8" y="60.7">20</tspan><tspan x="-8" y="115.1">40</tspan></text></g>

<g transform="translate(1852.6,650.7)"><rect width="136" height="136" fill="#888888" filter="url(#nS)"/><circle cx="69" cy="67" r="18" fill="url(#sb)"/><rect width="136" height="136" class="rb"/><text class="st" x="68" y="-8.4">845929</text><path class="tk" d="M1.4 136v5M55.8 136v5M110.2 136v5M0 1.4h-5M0 55.8h-5M0 110.2h-5"/><text class="xt" y="157.7"><tspan x="1.4">0</tspan><tspan x="55.8">20</tspan><tspan x="110.2">40</tspan></text><text class="yt"><tspan x="-8" y="6.3">0</tspan><tspan x="-8" y="60.7">20</tspan><tspan x="-8" y="115.1">40</tspan></text></g>
<g transform="translate(2051.2,650.7)"><rect width="136" height="136" fill="#858585" filter="url(#nS)"/><circle cx="69" cy="67" r="18" fill="url(#sb)"/><rect width="136" height="136" class="rb"/><text class="st" x="68" y="-8.4">845930</text><path class="tk" d="M1.4 136v5M55.8 136v5M110.2 136v5M0 1.4h-5M0 55.8h-5M0 110.2h-5"/><text class="xt" y="157.7"><tspan x="1.4">0</tspan><tspan x="55.8">20</tspan><tspan x="110.2">40</tspan></text><text class="yt"><tspan x="-8" y="6.3">0</tspan><tspan x="-8" y="60.7">20</tspan><tspan x="-8" y="115.1">40</tspan></text></g>
<g transform="translate(2249.8,650.7)"><rect width="136" height="136" fill="#888888" filter="url(#nS)"/><circle cx="69" cy="67" r="18" fill="url(#sb)"/><rect width="136" height="136" class="rb"/><text class="st" x="68" y="-8.4">845931</text><path class="tk" d="M1.4 136v5M55.8 136v5M110.2 136v5M0 1.4h-5M0 55.8h-5M0 110.2h-5"/><text class="xt" y="157.7"><tspan x="1.4">0</tspan><tspan x="55.8">20</tspan><tspan x="110.2">40</tspan></text><text class="yt"><tspan x="-8" y="6.3">0</tspan><tspan x="-8" y="60.7">20</tspan><tspan x="-8" y="115.1">40</tspan></text></g>
<g transform="translate(2448.4,650.7)"><rect width="136" height="136" fill="#808080" filter="url(#nS)"/><circle cx="69" cy="67" r="18" fill="url(#sb)"/><rect width="136" height="136" class="rb"/><text class="st" x="68" y="-8.4">845932</text><path class="tk" d="M1.4 136v5M55.8 136v5M110.2 136v5M0 1.4h-5M0 55.8h-5M0 110.2h-5"/><text class="xt" y="157.7"><tspan x="1.4">0</tspan><tspan x="55.8">20</tspan><tspan x="110.2">40</tspan></text><text class="yt"><tspan x="-8" y="6.3">0</tspan><tspan x="-8" y="60.7">20</tspan><tspan x="-8" y="115.1">40</tspan></text></g>
<g transform="translate(2647,650.7)"><rect width="136" height="136" fill="#7a7a7a" filter="url(#nS)"/><circle cx="69" cy="67" r="18" fill="url(#sb)"/><rect width="136" height="136" class="rb"/><text class="st" x="68" y="-8.4">845933</text><path class="tk" d="M1.4 136v5M55.8 136v5M110.2 136v5M0 1.4h-5M0 55.8h-5M0 110.2h-5"/><text class="xt" y="157.7"><tspan x="1.4">0</tspan><tspan x="55.8">20</tspan><tspan x="110.2">40</tspan></text><text class="yt"><tspan x="-8" y="6.3">0</tspan><tspan x="-8" y="60.7">20</tspan><tspan x="-8" y="115.1">40</tspan></text></g>
<g transform="translate(2845.6,650.7)"><rect width="136" height="136" fill="#7a7a7a" filter="url(#nS)"/><circle cx="69" cy="67" r="18" fill="url(#sb)"/><rect width="136" height="136" class="rb"/><text class="st" x="68" y="-8.4">845934</text><path class="tk" d="M1.4 136v5M55.8 136v5M110.2 136v5M0 1.4h-5M0 55.8h-5M0 110.2h-5"/><text class="xt" y="157.7"><tspan x="1.4">0</tspan><tspan x="55.8">20</tspan><tspan x="110.2">40</tspan></text><text class="yt"><tspan x="-8" y="6.3">0</tspan><tspan x="-8" y="60.7">20</tspan><tspan x="-8" y="115.1">40</tspan></text></g>
<g transform="translate(3044.2,650.7)"><rect width="136" height="136" fill="#9a9a9a" filter="url(#nS)"/><circle cx="69" cy="67" r="18" fill="url(#sb)"/><rect width="136" height="136" class="rb"/><text class="st" x="68" y="-8.4">845935</text><path class="tk" d="M1.4 136v5M55.8 136v5M110.2 136v5M0 1.4h-5M0 55.8h-5M0 110.2h-5"/><text class="xt" y="157.7"><tspan x="1.4">0</tspan><tspan x="55.8">20</tspan><tspan x="110.2">40</tspan></text><text class="yt"><tspan x="-8" y="6.3">0</tspan><tspan x="-8" y="60.7">20</tspan><tspan x="-8" y="115.1">40</tspan></text></g>
<g transform="translate(3242.8,650.7)"><rect width="136" height="136" fill="#999999" filter="url(#nS)"/><circle cx="69" cy="67" r="18" fill="url(#sb)"/><rect width="136" height="136" class="rb"/><text class="st" x="68" y="-8.4">845936</text><path class="tk" d="M1.4 136v5M55.8 136v5M110.2 136v5M0 1.4h-5M0 55.8h-5M0 110.2h-5"/><text class="xt" y="157.7"><tspan x="1.4">0</tspan><tspan x="55.8">20</tspan><tspan x="110.2">40</tspan></text><text class="yt"><tspan x="-8" y="6.3">0</tspan><tspan x="-8" y="60.7">20</tspan><tspan x="-8" y="115.1">40</tspan></text></g>
<g transform="translate(3441.4,650.7)"><rect width="136" height="136" fill="#858585" filter="url(#nS)"/><circle cx="69" cy="67" r="18" fill="url(#sb)"/><rect width="136" height="136" class="rb"/><text class="st" x="68" y="-8.4">845937</text><path class="tk" d="M1.4 136v5M55.8 136v5M110.2 136v5M0 1.4h-5M0 55.8h-5M0 110.2h-5"/><text class="xt" y="157.7"><tspan x="1.4">0</tspan><tspan x="55.8">20</tspan><tspan x="110.2">40</tspan></text><text class="yt"><tspan x="-8" y="6.3">0</tspan><tspan x="-8" y="60.7">20</tspan><tspan x="-8" y="115.1">40</tspan></text></g>

<g transform="translate(1852.6,845.7)"><rect width="136" height="136" fill="#5c5c5c" filter="url(#nS)"/><circle cx="69" cy="67" r="18" fill="url(#sb)"/><rect width="136" height="136" class="rb"/><text class="st" x="68" y="-8.4">845938</text><path class="tk" d="M1.4 136v5M55.8 136v5M110.2 136v5M0 1.4h-5M0 55.8h-5M0 110.2h-5"/><text class="xt" y="157.7"><tspan x="1.4">0</tspan><tspan x="55.8">20</tspan><tspan x="110.2">40</tspan></text><text class="yt"><tspan x="-8" y="6.3">0</tspan><tspan x="-8" y="60.7">20</tspan><tspan x="-8" y="115.1">40</tspan></text></g>
<g transform="translate(2051.2,845.7)"><rect width="136" height="136" fill="#9a9a9a" filter="url(#nS)"/><circle cx="69" cy="67" r="18" fill="url(#sb)"/><rect width="136" height="136" class="rb"/><text class="st" x="68" y="-8.4">845939</text><path class="tk" d="M1.4 136v5M55.8 136v5M110.2 136v5M0 1.4h-5M0 55.8h-5M0 110.2h-5"/><text class="xt" y="157.7"><tspan x="1.4">0</tspan><tspan x="55.8">20</tspan><tspan x="110.2">40</tspan></text><text class="yt"><tspan x="-8" y="6.3">0</tspan><tspan x="-8" y="60.7">20</tspan><tspan x="-8" y="115.1">40</tspan></text></g>
<g transform="translate(2249.8,845.7)"><rect width="136" height="136" fill="#888888" filter="url(#nS)"/><circle cx="69" cy="67" r="18" fill="url(#sb)"/><rect width="136" height="136" class="rb"/><text class="st" x="68" y="-8.4">845940</text><path class="tk" d="M1.4 136v5M55.8 136v5M110.2 136v5M0 1.4h-5M0 55.8h-5M0 110.2h-5"/><text class="xt" y="157.7"><tspan x="1.4">0</tspan><tspan x="55.8">20</tspan><tspan x="110.2">40</tspan></text><text class="yt"><tspan x="-8" y="6.3">0</tspan><tspan x="-8" y="60.7">20</tspan><tspan x="-8" y="115.1">40</tspan></text></g>
<g transform="translate(2448.4,845.7)"><rect width="136" height="136" fill="#a0a0a0" filter="url(#nS)"/><circle cx="69" cy="67" r="18" fill="url(#sb)"/><rect width="136" height="136" class="rb"/><text class="st" x="68" y="-8.4">845941</text><path class="tk" d="M1.4 136v5M55.8 136v5M110.2 136v5M0 1.4h-5M0 55.8h-5M0 110.2h-5"/><text class="xt" y="157.7"><tspan x="1.4">0</tspan><tspan x="55.8">20</tspan><tspan x="110.2">40</tspan></text><text class="yt"><tspan x="-8" y="6.3">0</tspan><tspan x="-8" y="60.7">20</tspan><tspan x="-8" y="115.1">40</tspan></text></g>
<g transform="translate(2647,845.7)"><rect width="136" height="136" fill="#888888" filter="url(#nS)"/><circle cx="69" cy="67" r="18" fill="url(#sb)"/><rect width="136" height="136" class="rb"/><text class="st" x="68" y="-8.4">845942</text><path class="tk" d="M1.4 136v5M55.8 136v5M110.2 136v5M0 1.4h-5M0 55.8h-5M0 110.2h-5"/><text class="xt" y="157.7"><tspan x="1.4">0</tspan><tspan x="55.8">20</tspan><tspan x="110.2">40</tspan></text><text class="yt"><tspan x="-8" y="6.3">0</tspan><tspan x="-8" y="60.7">20</tspan><tspan x="-8" y="115.1">40</tspan></text></g>
<g transform="translate(2845.6,845.7)"><rect width="136" height="136" fill="#7a7a7a" filter="url(#nS)"/><circle cx="69" cy="67" r="18" fill="url(#sb)"/><rect width="136" height="136" class="rb"/><text class="st" x="68" y="-8.4">845943</text><path class="tk" d="M1.4 136v5M55.8 136v5M110.2 136v5M0 1.4h-5M0 55.8h-5M0 110.2h-5"/><text class="xt" y="157.7"><tspan x="1.4">0</tspan><tspan x="55.8">20</tspan><tspan x="110.2">40</tspan></text><text class="yt"><tspan x="-8" y="6.3">0</tspan><tspan x="-8" y="60.7">20</tspan><tspan x="-8" y="115.1">40</tspan></text></g>
<g transform="translate(3044.2,845.7)"><rect width="136" height="136" fill="#858585" filter="url(#nS)"/><circle cx="69" cy="67" r="18" fill="url(#sb)"/><rect width="136" height="136" class="rb"/><text class="st" x="68" y="-8.4">845944</text><path class="tk" d="M1.4 136v5M55.8 136v5M110.2 136v5M0 1.4h-5M0 55.8h-5M0 110.2h-5"/><text class="xt" y="157.7"><tspan x="1.4">0</tspan><tspan x="55.8">20</tspan><tspan x="110.2">40</tspan></text><text class="yt"><tspan x="-8" y="6.3">0</tspan><tspan x="-8" y="60.7">20</tspan><tspan x="-8" y="115.1">40</tspan></text></g>
<g transform="translate(3242.8,845.7)"><rect width="136" height="136" fill="#a0a0a0" filter="url(#nS)"/><circle cx="69" cy="67" r="18" fill="url(#sb)"/><rect width="136" height="136" class="rb"/><text class="st" x="68" y="-8.4">845945</text><path class="tk" d="M1.4 136v5M55.8 136v5M110.2 136v5M0 1.4h-5M0 55.8h-5M0 110.2h-5"/><text class="xt" y="157.7"><tspan x="1.4">0</tspan><tspan x="55.8">20</tspan><tspan x="110.2">40</tspan></text><text class="yt"><tspan x="-8" y="6.3">0</tspan><tspan x="-8" y="60.7">20</tspan><tspan x="-8" y="115.1">40</tspan></text></g>
<g transform="translate(3441.4,845.7)"><rect width="136" height="136" fill="#858585" filter="url(#nS)"/><circle cx="69" cy="67" r="18" fill="url(#sb)"/><rect width="136" height="136" class="rb"/><text class="st" x="68" y="-8.4">845946</text><path class="tk" d="M1.4 136v5M55.8 136v5M110.2 136v5M0 1.4h-5M0 55.8h-5M0 110.2h-5"/><text class="xt" y="157.7"><tspan x="1.4">0</tspan><tspan x="55.8">20</tspan><tspan x="110.2">40</tspan></text><text class="yt"><tspan x="-8" y="6.3">0</tspan><tspan x="-8" y="60.7">20</tspan><tspan x="-8" y="115.1">40</tspan></text></g>

<g transform="translate(1852.6,1040.7)"><rect width="136" height="136" fill="#858585" filter="url(#nS)"/><circle cx="69" cy="67" r="18" fill="url(#sb)"/><rect width="136" height="136" class="rb"/><text class="st" x="68" y="-8.4">845947</text><path class="tk" d="M1.4 136v5M55.8 136v5M110.2 136v5M0 1.4h-5M0 55.8h-5M0 110.2h-5"/><text class="xt" y="157.7"><tspan x="1.4">0</tspan><tspan x="55.8">20</tspan><tspan x="110.2">40</tspan></text><text class="yt"><tspan x="-8" y="6.3">0</tspan><tspan x="-8" y="60.7">20</tspan><tspan x="-8" y="115.1">40</tspan></text></g>
<g transform="translate(2051.2,1040.7)"><rect width="136" height="136" fill="#858585" filter="url(#nS)"/><circle cx="69" cy="67" r="18" fill="url(#sb)"/><rect width="136" height="136" class="rb"/><text class="st" x="68" y="-8.4">845948</text><path class="tk" d="M1.4 136v5M55.8 136v5M110.2 136v5M0 1.4h-5M0 55.8h-5M0 110.2h-5"/><text class="xt" y="157.7"><tspan x="1.4">0</tspan><tspan x="55.8">20</tspan><tspan x="110.2">40</tspan></text><text class="yt"><tspan x="-8" y="6.3">0</tspan><tspan x="-8" y="60.7">20</tspan><tspan x="-8" y="115.1">40</tspan></text></g>
<g transform="translate(2249.8,1040.7)"><rect width="136" height="136" fill="#888888" filter="url(#nS)"/><circle cx="69" cy="67" r="18" fill="url(#sb)"/><rect width="136" height="136" class="rb"/><text class="st" x="68" y="-8.4">845949</text><path class="tk" d="M1.4 136v5M55.8 136v5M110.2 136v5M0 1.4h-5M0 55.8h-5M0 110.2h-5"/><text class="xt" y="157.7"><tspan x="1.4">0</tspan><tspan x="55.8">20</tspan><tspan x="110.2">40</tspan></text><text class="yt"><tspan x="-8" y="6.3">0</tspan><tspan x="-8" y="60.7">20</tspan><tspan x="-8" y="115.1">40</tspan></text></g>
<g transform="translate(2448.4,1040.7)"><rect width="136" height="136" fill="#959595" filter="url(#nS)"/><circle cx="69" cy="67" r="18" fill="url(#sb)"/><rect width="136" height="136" class="rb"/><text class="st" x="68" y="-8.4">845950</text><path class="tk" d="M1.4 136v5M55.8 136v5M110.2 136v5M0 1.4h-5M0 55.8h-5M0 110.2h-5"/><text class="xt" y="157.7"><tspan x="1.4">0</tspan><tspan x="55.8">20</tspan><tspan x="110.2">40</tspan></text><text class="yt"><tspan x="-8" y="6.3">0</tspan><tspan x="-8" y="60.7">20</tspan><tspan x="-8" y="115.1">40</tspan></text></g>
<g transform="translate(2647,1040.7)"><rect width="136" height="136" fill="#8a8a8a" filter="url(#nS)"/><circle cx="69" cy="67" r="18" fill="url(#sb)"/><rect width="136" height="136" class="rb"/><text class="st" x="68" y="-8.4">845951</text><path class="tk" d="M1.4 136v5M55.8 136v5M110.2 136v5M0 1.4h-5M0 55.8h-5M0 110.2h-5"/><text class="xt" y="157.7"><tspan x="1.4">0</tspan><tspan x="55.8">20</tspan><tspan x="110.2">40</tspan></text><text class="yt"><tspan x="-8" y="6.3">0</tspan><tspan x="-8" y="60.7">20</tspan><tspan x="-8" y="115.1">40</tspan></text></g>
<g transform="translate(2845.6,1040.7)"><rect width="136" height="136" fill="#6a6a6a" filter="url(#nS)"/><circle cx="69" cy="67" r="18" fill="url(#sb)"/><rect width="136" height="136" class="rb"/><text class="st" x="68" y="-8.4">845952</text><path class="tk" d="M1.4 136v5M55.8 136v5M110.2 136v5M0 1.4h-5M0 55.8h-5M0 110.2h-5"/><text class="xt" y="157.7"><tspan x="1.4">0</tspan><tspan x="55.8">20</tspan><tspan x="110.2">40</tspan></text><text class="yt"><tspan x="-8" y="6.3">0</tspan><tspan x="-8" y="60.7">20</tspan><tspan x="-8" y="115.1">40</tspan></text></g>
<g transform="translate(3044.2,1040.7)"><rect width="136" height="136" fill="#808080" filter="url(#nS)"/><circle cx="69" cy="67" r="18" fill="url(#sb)"/><rect width="136" height="136" class="rb"/><text class="st" x="68" y="-8.4">845953</text><path class="tk" d="M1.4 136v5M55.8 136v5M110.2 136v5M0 1.4h-5M0 55.8h-5M0 110.2h-5"/><text class="xt" y="157.7"><tspan x="1.4">0</tspan><tspan x="55.8">20</tspan><tspan x="110.2">40</tspan></text><text class="yt"><tspan x="-8" y="6.3">0</tspan><tspan x="-8" y="60.7">20</tspan><tspan x="-8" y="115.1">40</tspan></text></g>
<g transform="translate(3242.8,1040.7)"><rect width="136" height="136" fill="#808080" filter="url(#nS)"/><circle cx="69" cy="67" r="18" fill="url(#sb)"/><rect width="136" height="136" class="rb"/><text class="st" x="68" y="-8.4">845954</text><path class="tk" d="M1.4 136v5M55.8 136v5M110.2 136v5M0 1.4h-5M0 55.8h-5M0 110.2h-5"/><text class="xt" y="157.7"><tspan x="1.4">0</tspan><tspan x="55.8">20</tspan><tspan x="110.2">40</tspan></text><text class="yt"><tspan x="-8" y="6.3">0</tspan><tspan x="-8" y="60.7">20</tspan><tspan x="-8" y="115.1">40</tspan></text></g>
<g transform="translate(3441.4,1040.7)"><rect width="136" height="136" fill="#888888" filter="url(#nS)"/><circle cx="69" cy="67" r="18" fill="url(#sb)"/><rect width="136" height="136" class="rb"/><text class="st" x="68" y="-8.4">845955</text><path class="tk" d="M1.4 136v5M55.8 136v5M110.2 136v5M0 1.4h-5M0 55.8h-5M0 110.2h-5"/><text class="xt" y="157.7"><tspan x="1.4">0</tspan><tspan x="55.8">20</tspan><tspan x="110.2">40</tspan></text><text class="yt"><tspan x="-8" y="6.3">0</tspan><tspan x="-8" y="60.7">20</tspan><tspan x="-8" y="115.1">40</tspan></text></g>

<g transform="translate(1852.6,1235.7)"><rect width="136" height="136" fill="#909090" filter="url(#nS)"/><circle cx="69" cy="67" r="18" fill="url(#sb)"/><rect width="136" height="136" class="rb"/><text class="st" x="68" y="-8.4">845956</text><path class="tk" d="M1.4 136v5M55.8 136v5M110.2 136v5M0 1.4h-5M0 55.8h-5M0 110.2h-5"/><text class="xt" y="157.7"><tspan x="1.4">0</tspan><tspan x="55.8">20</tspan><tspan x="110.2">40</tspan></text><text class="yt"><tspan x="-8" y="6.3">0</tspan><tspan x="-8" y="60.7">20</tspan><tspan x="-8" y="115.1">40</tspan></text></g>
<g transform="translate(2051.2,1235.7)"><rect width="136" height="136" fill="#858585" filter="url(#nS)"/><circle cx="69" cy="67" r="18" fill="url(#sb)"/><rect width="136" height="136" class="rb"/><text class="st" x="68" y="-8.4">845957</text><path class="tk" d="M1.4 136v5M55.8 136v5M110.2 136v5M0 1.4h-5M0 55.8h-5M0 110.2h-5"/><text class="xt" y="157.7"><tspan x="1.4">0</tspan><tspan x="55.8">20</tspan><tspan x="110.2">40</tspan></text><text class="yt"><tspan x="-8" y="6.3">0</tspan><tspan x="-8" y="60.7">20</tspan><tspan x="-8" y="115.1">40</tspan></text></g>
<g transform="translate(2249.8,1235.7)"><rect width="136" height="136" fill="#888888" filter="url(#nS)"/><circle cx="69" cy="67" r="18" fill="url(#sb)"/><rect width="136" height="136" class="rb"/><text class="st" x="68" y="-8.4">845958</text><path class="tk" d="M1.4 136v5M55.8 136v5M110.2 136v5M0 1.4h-5M0 55.8h-5M0 110.2h-5"/><text class="xt" y="157.7"><tspan x="1.4">0</tspan><tspan x="55.8">20</tspan><tspan x="110.2">40</tspan></text><text class="yt"><tspan x="-8" y="6.3">0</tspan><tspan x="-8" y="60.7">20</tspan><tspan x="-8" y="115.1">40</tspan></text></g>
<g transform="translate(2448.4,1235.7)"><rect width="136" height="136" fill="#707070" filter="url(#nS)"/><circle cx="69" cy="67" r="18" fill="url(#sb)"/><rect width="136" height="136" class="rb"/><text class="st" x="68" y="-8.4">845959</text><path class="tk" d="M1.4 136v5M55.8 136v5M110.2 136v5M0 1.4h-5M0 55.8h-5M0 110.2h-5"/><text class="xt" y="157.7"><tspan x="1.4">0</tspan><tspan x="55.8">20</tspan><tspan x="110.2">40</tspan></text><text class="yt"><tspan x="-8" y="6.3">0</tspan><tspan x="-8" y="60.7">20</tspan><tspan x="-8" y="115.1">40</tspan></text></g>
<g transform="translate(2647,1235.7)"><rect width="136" height="136" fill="#6a6a6a" filter="url(#nS)"/><circle cx="69" cy="67" r="18" fill="url(#sb)"/><rect width="136" height="136" class="rb"/><text class="st" x="68" y="-8.4">845960</text><path class="tk" d="M1.4 136v5M55.8 136v5M110.2 136v5M0 1.4h-5M0 55.8h-5M0 110.2h-5"/><text class="xt" y="157.7"><tspan x="1.4">0</tspan><tspan x="55.8">20</tspan><tspan x="110.2">40</tspan></text><text class="yt"><tspan x="-8" y="6.3">0</tspan><tspan x="-8" y="60.7">20</tspan><tspan x="-8" y="115.1">40</tspan></text></g>
<g transform="translate(2845.6,1235.7)"><rect width="136" height="136" fill="#6e6e6e" filter="url(#nS)"/><circle cx="69" cy="67" r="18" fill="url(#sb)"/><rect width="136" height="136" class="rb"/><text class="st" x="68" y="-8.4">845961</text><path class="tk" d="M1.4 136v5M55.8 136v5M110.2 136v5M0 1.4h-5M0 55.8h-5M0 110.2h-5"/><text class="xt" y="157.7"><tspan x="1.4">0</tspan><tspan x="55.8">20</tspan><tspan x="110.2">40</tspan></text><text class="yt"><tspan x="-8" y="6.3">0</tspan><tspan x="-8" y="60.7">20</tspan><tspan x="-8" y="115.1">40</tspan></text></g>
<g transform="translate(3044.2,1235.7)"><rect width="136" height="136" fill="#959595" filter="url(#nS)"/><circle cx="69" cy="67" r="18" fill="url(#sb)"/><rect width="136" height="136" class="rb"/><text class="st" x="68" y="-8.4">845962</text><path class="tk" d="M1.4 136v5M55.8 136v5M110.2 136v5M0 1.4h-5M0 55.8h-5M0 110.2h-5"/><text class="xt" y="157.7"><tspan x="1.4">0</tspan><tspan x="55.8">20</tspan><tspan x="110.2">40</tspan></text><text class="yt"><tspan x="-8" y="6.3">0</tspan><tspan x="-8" y="60.7">20</tspan><tspan x="-8" y="115.1">40</tspan></text></g>
<g transform="translate(3242.8,1235.7)"><rect width="136" height="136" fill="#888888" filter="url(#nS)"/><circle cx="69" cy="67" r="18" fill="url(#sb)"/><rect width="136" height="136" class="rb"/><text class="st" x="68" y="-8.4">845963</text><path class="tk" d="M1.4 136v5M55.8 136v5M110.2 136v5M0 1.4h-5M0 55.8h-5M0 110.2h-5"/><text class="xt" y="157.7"><tspan x="1.4">0</tspan><tspan x="55.8">20</tspan><tspan x="110.2">40</tspan></text><text class="yt"><tspan x="-8" y="6.3">0</tspan><tspan x="-8" y="60.7">20</tspan><tspan x="-8" y="115.1">40</tspan></text></g>
<g transform="translate(3441.4,1235.7)"><rect width="136" height="136" fill="#707070" filter="url(#nS)"/><circle cx="69" cy="67" r="18" fill="url(#sb)"/><rect width="136" height="136" class="rb"/><text class="st" x="68" y="-8.4">845964</text><path class="tk" d="M1.4 136v5M55.8 136v5M110.2 136v5M0 1.4h-5M0 55.8h-5M0 110.2h-5"/><text class="xt" y="157.7"><tspan x="1.4">0</tspan><tspan x="55.8">20</tspan><tspan x="110.2">40</tspan></text><text class="yt"><tspan x="-8" y="6.3">0</tspan><tspan x="-8" y="60.7">20</tspan><tspan x="-8" y="115.1">40</tspan></text></g>

<g transform="translate(1852.6,1430.7)"><rect width="136" height="136" fill="#888888" filter="url(#nS)"/><circle cx="69" cy="67" r="18" fill="url(#sb)"/><rect width="136" height="136" class="rb"/><text class="st" x="68" y="-8.4">845965</text><path class="tk" d="M1.4 136v5M55.8 136v5M110.2 136v5M0 1.4h-5M0 55.8h-5M0 110.2h-5"/><text class="xt" y="157.7"><tspan x="1.4">0</tspan><tspan x="55.8">20</tspan><tspan x="110.2">40</tspan></text><text class="yt"><tspan x="-8" y="6.3">0</tspan><tspan x="-8" y="60.7">20</tspan><tspan x="-8" y="115.1">40</tspan></text></g>
<g transform="translate(2051.2,1430.7)"><rect width="136" height="136" fill="#858585" filter="url(#nS)"/><circle cx="69" cy="67" r="18" fill="url(#sb)"/><rect width="136" height="136" class="rb"/><text class="st" x="68" y="-8.4">845966</text><path class="tk" d="M1.4 136v5M55.8 136v5M110.2 136v5M0 1.4h-5M0 55.8h-5M0 110.2h-5"/><text class="xt" y="157.7"><tspan x="1.4">0</tspan><tspan x="55.8">20</tspan><tspan x="110.2">40</tspan></text><text class="yt"><tspan x="-8" y="6.3">0</tspan><tspan x="-8" y="60.7">20</tspan><tspan x="-8" y="115.1">40</tspan></text></g>
<g transform="translate(2249.8,1430.7)"><rect width="136" height="136" fill="#707070" filter="url(#nS)"/><circle cx="69" cy="67" r="18" fill="url(#sb)"/><rect width="136" height="136" class="rb"/><text class="st" x="68" y="-8.4">845967</text><path class="tk" d="M1.4 136v5M55.8 136v5M110.2 136v5M0 1.4h-5M0 55.8h-5M0 110.2h-5"/><text class="xt" y="157.7"><tspan x="1.4">0</tspan><tspan x="55.8">20</tspan><tspan x="110.2">40</tspan></text><text class="yt"><tspan x="-8" y="6.3">0</tspan><tspan x="-8" y="60.7">20</tspan><tspan x="-8" y="115.1">40</tspan></text></g>
<g transform="translate(2448.4,1430.7)"><rect width="136" height="136" fill="#6e6e6e" filter="url(#nS)"/><circle cx="69" cy="67" r="18" fill="url(#sb)"/><rect width="136" height="136" class="rb"/><text class="st" x="68" y="-8.4">845968</text><path class="tk" d="M1.4 136v5M55.8 136v5M110.2 136v5M0 1.4h-5M0 55.8h-5M0 110.2h-5"/><text class="xt" y="157.7"><tspan x="1.4">0</tspan><tspan x="55.8">20</tspan><tspan x="110.2">40</tspan></text><text class="yt"><tspan x="-8" y="6.3">0</tspan><tspan x="-8" y="60.7">20</tspan><tspan x="-8" y="115.1">40</tspan></text></g>
<g transform="translate(2647,1430.7)"><rect width="136" height="136" fill="#808080" filter="url(#nS)"/><circle cx="69" cy="67" r="18" fill="url(#sb)"/><rect width="136" height="136" class="rb"/><text class="st" x="68" y="-8.4">845969</text><path class="tk" d="M1.4 136v5M55.8 136v5M110.2 136v5M0 1.4h-5M0 55.8h-5M0 110.2h-5"/><text class="xt" y="157.7"><tspan x="1.4">0</tspan><tspan x="55.8">20</tspan><tspan x="110.2">40</tspan></text><text class="yt"><tspan x="-8" y="6.3">0</tspan><tspan x="-8" y="60.7">20</tspan><tspan x="-8" y="115.1">40</tspan></text></g>
<g transform="translate(2845.6,1430.7)"><rect width="136" height="136" fill="#666666" filter="url(#nS)"/><circle cx="69" cy="67" r="18" fill="url(#sb)"/><rect width="136" height="136" class="rb"/><text class="st" x="68" y="-8.4">845970</text><path class="tk" d="M1.4 136v5M55.8 136v5M110.2 136v5M0 1.4h-5M0 55.8h-5M0 110.2h-5"/><text class="xt" y="157.7"><tspan x="1.4">0</tspan><tspan x="55.8">20</tspan><tspan x="110.2">40</tspan></text><text class="yt"><tspan x="-8" y="6.3">0</tspan><tspan x="-8" y="60.7">20</tspan><tspan x="-8" y="115.1">40</tspan></text></g>
<g transform="translate(3044.2,1430.7)"><rect width="136" height="136" fill="#a0a0a0" filter="url(#nS)"/><circle cx="69" cy="67" r="18" fill="url(#sb)"/><rect width="136" height="136" class="rb"/><text class="st" x="68" y="-8.4">845971</text><path class="tk" d="M1.4 136v5M55.8 136v5M110.2 136v5M0 1.4h-5M0 55.8h-5M0 110.2h-5"/><text class="xt" y="157.7"><tspan x="1.4">0</tspan><tspan x="55.8">20</tspan><tspan x="110.2">40</tspan></text><text class="yt"><tspan x="-8" y="6.3">0</tspan><tspan x="-8" y="60.7">20</tspan><tspan x="-8" y="115.1">40</tspan></text></g>
<g transform="translate(3242.8,1430.7)"><rect width="136" height="136" fill="#7a7a7a" filter="url(#nS)"/><circle cx="69" cy="67" r="18" fill="url(#sb)"/><rect width="136" height="136" class="rb"/><text class="st" x="68" y="-8.4">845972</text><path class="tk" d="M1.4 136v5M55.8 136v5M110.2 136v5M0 1.4h-5M0 55.8h-5M0 110.2h-5"/><text class="xt" y="157.7"><tspan x="1.4">0</tspan><tspan x="55.8">20</tspan><tspan x="110.2">40</tspan></text><text class="yt"><tspan x="-8" y="6.3">0</tspan><tspan x="-8" y="60.7">20</tspan><tspan x="-8" y="115.1">40</tspan></text></g>
<g transform="translate(3441.4,1430.7)"><rect width="136" height="136" fill="#626262" filter="url(#nS)"/><circle cx="69" cy="67" r="18" fill="url(#sb)"/><rect width="136" height="136" class="rb"/><text class="st" x="68" y="-8.4">845973</text><path class="tk" d="M1.4 136v5M55.8 136v5M110.2 136v5M0 1.4h-5M0 55.8h-5M0 110.2h-5"/><text class="xt" y="157.7"><tspan x="1.4">0</tspan><tspan x="55.8">20</tspan><tspan x="110.2">40</tspan></text><text class="yt"><tspan x="-8" y="6.3">0</tspan><tspan x="-8" y="60.7">20</tspan><tspan x="-8" y="115.1">40</tspan></text></g>

<g transform="translate(1852.6,1625.7)"><rect width="136" height="136" fill="#757575" filter="url(#nS)"/><circle cx="69" cy="67" r="18" fill="url(#sb)"/><rect width="136" height="136" class="rb"/><text class="st" x="68" y="-8.4">845974</text><path class="tk" d="M1.4 136v5M55.8 136v5M110.2 136v5M0 1.4h-5M0 55.8h-5M0 110.2h-5"/><text class="xt" y="157.7"><tspan x="1.4">0</tspan><tspan x="55.8">20</tspan><tspan x="110.2">40</tspan></text><text class="yt"><tspan x="-8" y="6.3">0</tspan><tspan x="-8" y="60.7">20</tspan><tspan x="-8" y="115.1">40</tspan></text></g>
<g transform="translate(2051.2,1625.7)"><rect width="136" height="136" fill="#5c5c5c" filter="url(#nS)"/><circle cx="69" cy="67" r="18" fill="url(#sb)"/><rect width="136" height="136" class="rb"/><text class="st" x="68" y="-8.4">845975</text><path class="tk" d="M1.4 136v5M55.8 136v5M110.2 136v5M0 1.4h-5M0 55.8h-5M0 110.2h-5"/><text class="xt" y="157.7"><tspan x="1.4">0</tspan><tspan x="55.8">20</tspan><tspan x="110.2">40</tspan></text><text class="yt"><tspan x="-8" y="6.3">0</tspan><tspan x="-8" y="60.7">20</tspan><tspan x="-8" y="115.1">40</tspan></text></g>
</svg>
</body></html>
